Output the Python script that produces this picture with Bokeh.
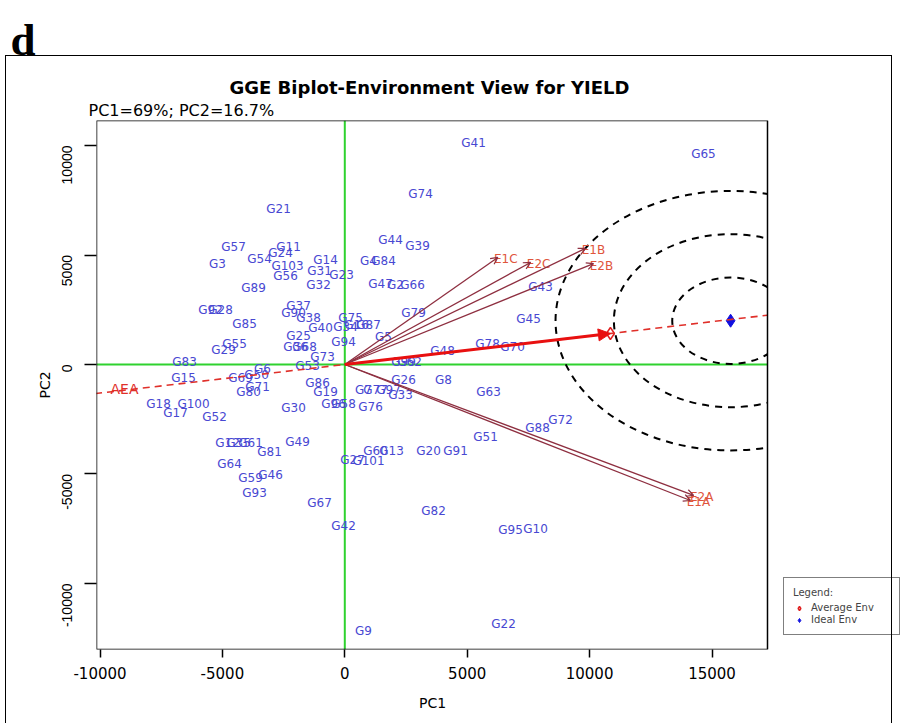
import math
from bokeh.plotting import figure
from bokeh.models import (Range1d, Span, Slope, Arrow, OpenHead, NormalHead, Title,
                          ColumnDataSource, FixedTicker, Legend, LegendItem, BoxAnnotation,
                          CustomJSTickFormatter, InlineStyleSheet)
from bokeh.embed import file_html
from bokeh.resources import INLINE
from bokeh.core.properties import value

# ---- genotype scores (PC1, PC2) ----
geno_names = [
    "G21", "G57", "G11", "G24", "G54", "G3", "G103", "G14", "G31", "G23", "G56", "G32",
    "G89", "G92", "G28", "G85", "G55", "G29", "G37", "G90", "G38", "G40", "G75", "G34",
    "G16", "G87", "G25", "G36", "G68", "G94", "G73", "G83", "G15", "G53", "G6", "G69",
    "G50", "G71", "G80", "G18", "G100", "G17", "G52", "G30", "G86", "G19", "G96", "G58",
    "G76", "G49", "G12", "G35", "G61", "G81", "G64", "G59", "G46", "G93", "G67", "G42",
    "G60", "G13", "G27", "G101", "G20", "G91", "G82", "G95", "G10", "G22", "G9", "G79",
    "G45", "G43", "G5", "G78", "G70", "G48", "G99", "G62", "G26", "G8", "G63", "G7",
    "G77", "G97", "G33", "G51", "G72", "G88", "G41", "G74", "G44", "G39", "G4", "G84",
    "G47", "G2", "G66", "G65",
]
geno_pc1 = [
    -2708, -4547, -2300, -2627, -3485, -5200, -2341, -788, -1034, -135, -2422, -1074,
    -3730, -5486, -5078, -4097, -4506, -4955, -1891, -2096, -1483, -993, 233, 29,
    478, 968, -1891, -2014, -1646, -53, -911, -6548, -6589, -1524, -3362, -4261,
    -3607, -3566, -3934, -7610, -6181, -6916, -5323, -2096, -1115, -788, -462, -53,
    1050, -1932, -4792, -4342, -3852, -3076, -4710, -3852, -3035, -3689, -1034, -53,
    1254, 1908, 315, 968, 3419, 4522, 3623, 6769, 7790, 6483, 764, 2806,
    7504, 7994, 1581, 5829, 6851, 3991, 2398, 2643, 2398, 4032, 5870, 764,
    1254, 1785, 2275, 5748, 8812, 7872, 5257, 3092, 1867, 2970, 968, 1581,
    1458, 2071, 2765, 14651,
]
geno_pc2 = [
    7123, 5388, 5388, 5114, 4840, 4612, 4520, 4794, 4292, 4109, 4064, 3653,
    3516, 2511, 2511, 1872, 959, 685, 2694, 2374, 2146, 1689, 2146, 1735,
    1781, 1781, 1324, 822, 822, 1005, 365, 137, -639, -46, -183, -594,
    -457, -1005, -1278, -1781, -1826, -2237, -2420, -2009, -822, -1278, -1781, -1826,
    -1918, -3516, -3607, -3607, -3607, -4018, -4566, -5205, -5023, -5890, -6347, -7352,
    -3972, -3972, -4338, -4429, -3972, -3927, -6712, -7580, -7534, -11827, -12192, 2329,
    2100, 3561, 1278, 959, 822, 594, 137, 137, -685, -685, -1278, -1187,
    -1187, -1187, -1415, -3333, -2557, -2877, 10137, 7808, 5708, 5434, 4749, 4749,
    3698, 3653, 3653, 9634,
]

# ---- environment vectors ----
env_names = ["E1C", "E2C", "E1B", "E2B", "E2A", "E1A"]
env_pc1 = [6250, 7590, 9830, 10160, 14250, 14120]
env_pc2 = [4890, 4660, 5300, 4610, -5980, -6210]

# average environment and ideal environment
avg_env = (10850, 1415)
ideal_env = (15760, 2000)
ring_r = [1975, 3950, 5925]   # concentric distance rings around the ideal environment

x_ticks = [-10000, -5000, 0, 5000, 10000, 15000]
y_ticks = [-10000, -5000, 0, 5000, 10000]

# visible plotting box in data units; the canvas frame runs further right
# so the legend can sit beside the box
X0, X1 = -10143, 17267
Y0, Y1 = -13014, 11142
PX_PER_UNIT = 0.02448          # horizontal pixels per PC1 unit

W, H = 900, 723
FL, FT, FB = 96, 120, 649
FR = 900
x_end = X0 + (FR - FL) / PX_PER_UNIT

# outer panel frame drawn around the figure
frame_css = InlineStyleSheet(css="""
:host { position: relative; }
:host::after {
  content: ""; position: absolute; left: 5px; top: 55px; width: 887px; height: 700px;
  border: 1.5px solid black; pointer-events: none; box-sizing: border-box;
}
""")

p = figure(width=W, height=H, output_backend="svg", toolbar_location=None, title=None,
           x_range=Range1d(X0, x_end), y_range=Range1d(Y0, Y1),
           min_border_left=FL, min_border_right=W - FR,
           min_border_top=FT, min_border_bottom=H - FB)
p.stylesheets = [frame_css]
p.background_fill_color = "white"
p.border_fill_color = "white"
p.outline_line_color = None
p.grid.visible = False

for ax in (p.xaxis[0], p.yaxis[0]):
    ax.axis_line_color = None
    ax.major_tick_line_color = "black"
    ax.major_tick_line_width = 1.5
    ax.major_tick_in = 0
    ax.minor_tick_line_color = None
    ax.axis_label_text_font = "DejaVu Sans"
    ax.axis_label_text_font_style = "normal"
    ax.axis_label_text_font_size = "14px"
    ax.axis_label_text_color = "black"
    ax.major_label_text_color = "black"
    ax.formatter = CustomJSTickFormatter(code="return String(tick);")

p.xaxis.ticker = FixedTicker(ticks=x_ticks)
p.yaxis.ticker = FixedTicker(ticks=y_ticks)
p.yaxis.axis_label = "PC2"
p.xaxis.major_tick_out = 8
p.yaxis.major_tick_out = 12
p.xaxis.major_label_text_font = "DejaVu Sans"
p.xaxis.major_label_text_font_size = "15px"
p.yaxis.major_label_text_font = "Liberation Sans"
p.yaxis.major_label_text_font_size = "14px"
p.yaxis.major_label_orientation = math.pi / 2
p.xaxis.major_label_standoff = 9
p.yaxis.major_label_standoff = 17
p.yaxis.axis_label_standoff = 2

# green reference axes through the origin
p.add_layout(Span(location=0, dimension="height", line_color="#2fd22f", line_width=2, level="underlay"))
p.add_layout(Span(location=0, dimension="width", line_color="#2fd22f", line_width=2, level="underlay"))

# average-environment axis (dashed red) through the origin
p.add_layout(Slope(gradient=avg_env[1] / avg_env[0], y_intercept=0,
                   line_color="#e0302a", line_width=1.6, line_dash="7 5"))

# concentric rings around the ideal environment
xr = 1.207
p.ellipse(x=[ideal_env[0]] * len(ring_r), y=[ideal_env[1]] * len(ring_r),
          width=[2 * r * xr for r in ring_r], height=[2 * r for r in ring_r],
          fill_color=None, line_color="black", line_width=2, line_dash="7 6")

# genotype labels
gsrc = ColumnDataSource(dict(x=geno_pc1, y=geno_pc2, name=geno_names))
p.text(x="x", y="y", text="name", source=gsrc, text_font=value("DejaVu Sans"),
       text_font_size="12px", text_color="#4848d2", text_align="center",
       text_baseline="middle")

# environment vectors
for ex, ey in zip(env_pc1, env_pc2):
    p.add_layout(Arrow(end=OpenHead(size=7, line_color="#8e2f40", line_width=1.2),
                       x_start=0, y_start=0, x_end=ex, y_end=ey,
                       line_color="#8e2f40", line_width=1.3))
esrc = ColumnDataSource(dict(x=env_pc1, y=env_pc2, name=env_names))
p.text(x="x", y="y", text="name", source=esrc, text_font=value("DejaVu Sans"),
       text_font_size="12px", text_color="#e0553c", text_align="center",
       text_baseline="middle", x_offset=8, y_offset=2)

# average environment coordinate arrow
p.add_layout(Arrow(end=NormalHead(size=12, fill_color="#e81010", line_color="#e81010"),
                   x_start=0, y_start=0, x_end=avg_env[0], y_end=avg_env[1],
                   line_color="#e81010", line_width=3))
p.text(x=[-9000], y=[-1100], text=["AEA"], text_font=value("DejaVu Sans"),
       text_font_size="14px", text_color="#e0302a", text_align="center",
       text_baseline="middle")

avg_r = p.scatter([avg_env[0]], [avg_env[1]], marker="diamond", size=12,
                  fill_color=None, line_color="#e02020", line_width=1.5)
ideal_r = p.scatter([ideal_env[0]], [ideal_env[1]], marker="diamond", size=13,
                    fill_color="#1010e0", line_color="#1010e0")

# blank margin to the right of the plotting box, then the box outline
p.add_layout(BoxAnnotation(left=X1, fill_color="white", fill_alpha=1.0, line_color=None))
p.add_layout(BoxAnnotation(left=X0, right=X1, fill_color=None, line_color="black",
                           line_alpha=1.0, line_width=1.5))

legend = Legend(items=[LegendItem(label="Average Env", renderers=[avg_r]),
                       LegendItem(label="Ideal Env", renderers=[ideal_r])],
                title="Legend:", location=(783 - FL, FB - 635), orientation="vertical",
                label_text_font="DejaVu Sans", label_text_font_size="10px",
                title_text_font="DejaVu Sans", title_text_font_size="10px",
                title_text_font_style="normal",
                glyph_height=10, glyph_width=12, label_height=10, label_width=79,
                spacing=1, padding=9, margin=0, border_line_color="black",
                border_line_width=1.2, label_standoff=6, title_standoff=4)
p.add_layout(legend, "center")

# x-axis caption, centred under the plotting box
p.add_layout(Title(text="PC1", align="left", offset=(FL + 767) / 2 - FL - 13,
                   text_font="DejaVu Sans", text_font_size="14px",
                   text_font_style="normal", text_color="black", standoff=22), "below")

# stacked headings above the frame (first added sits closest to the frame)
p.add_layout(Title(text="PC1=69%; PC2=16.7%", align="left", offset=-8,
                   text_font="DejaVu Sans", text_font_size="16px",
                   text_font_style="normal", text_color="black", standoff=2), "above")
p.add_layout(Title(text="GGE Biplot-Environment View for YIELD", align="left", offset=133,
                   text_font="DejaVu Sans", text_font_size="18px",
                   text_font_style="bold", text_color="black", standoff=0), "above")
p.add_layout(Title(text="d", align="left", offset=-86,
                   text_font="Liberation Serif", text_font_size="45px",
                   text_font_style="bold", text_color="black", standoff=20), "above")

open("out.html", "w").write(file_html(p, INLINE))
